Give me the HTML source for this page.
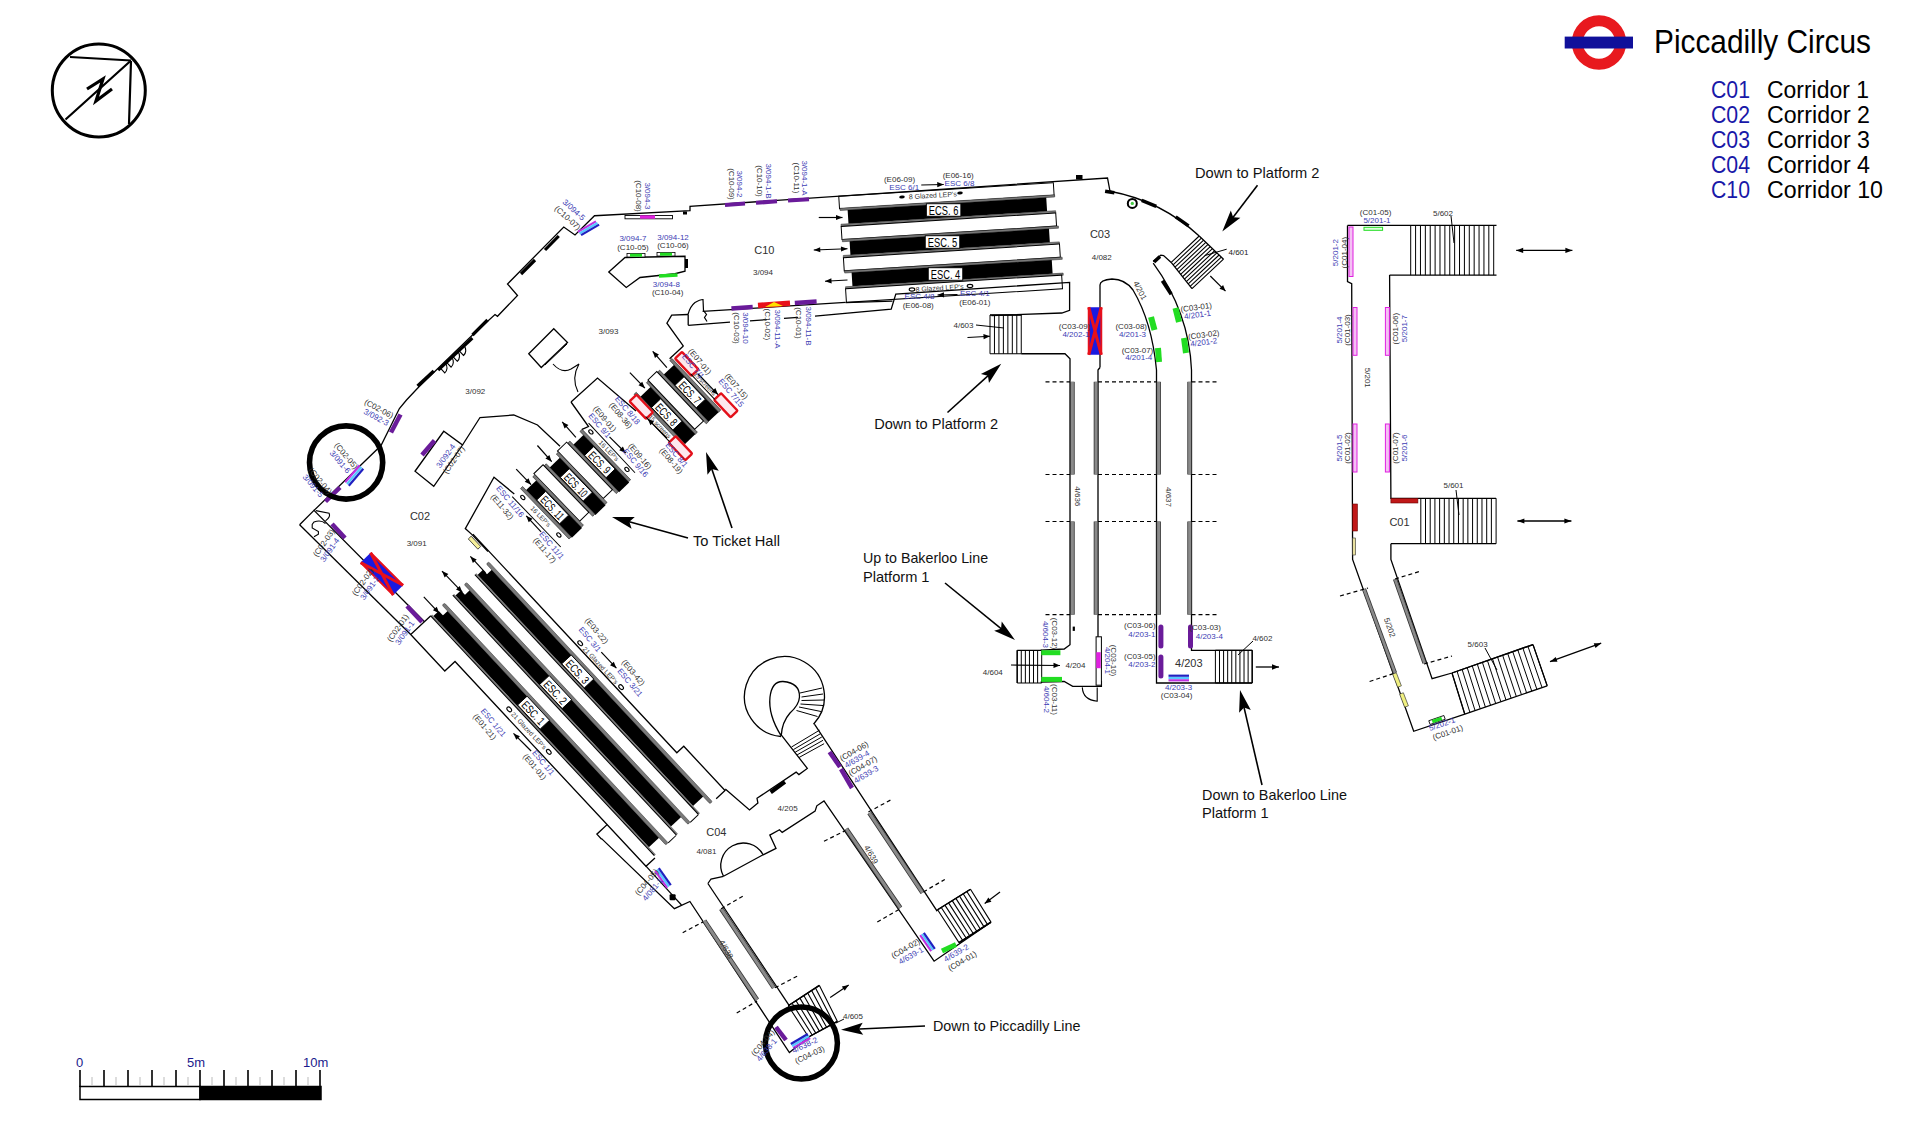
<!DOCTYPE html>
<html><head><meta charset="utf-8">
<style>
html,body{margin:0;padding:0;background:#fff;}
body{width:1920px;height:1126px;overflow:hidden;position:relative;}
svg{position:absolute;left:0;top:0;}
text{font-family:"Liberation Sans",sans-serif;}
</style></head><body>
<svg width="1920" height="1126" viewBox="0 0 1920 1126">
<g fill="none" stroke="#000">
<circle cx="98.8" cy="90.5" r="46.5" stroke-width="3"/>
<path d="M70,57 L131,60.5 M131,60.5 L65.5,119.5 M131,61 L129,124" stroke-width="2.2"/>
<path d="M87,89 L103,79 L96,101 L112,89" stroke-width="3.2"/>
</g>
<circle cx="1599" cy="42.5" r="21.7" fill="none" stroke="#e8191e" stroke-width="11"/>
<rect x="1564.7" y="36.6" width="68.3" height="11.9" fill="#10109a"/>
<text x="1654" y="53" font-size="33" fill="#000" textLength="217" lengthAdjust="spacingAndGlyphs">Piccadilly Circus</text>
<text x="1711" y="98" font-size="23" fill="#1818a8" textLength="39" lengthAdjust="spacingAndGlyphs">C01</text>
<text x="1767" y="98" font-size="23" fill="#000" textLength="102" lengthAdjust="spacingAndGlyphs">Corridor 1</text>
<text x="1711" y="123" font-size="23" fill="#1818a8" textLength="39" lengthAdjust="spacingAndGlyphs">C02</text>
<text x="1767" y="123" font-size="23" fill="#000" textLength="103" lengthAdjust="spacingAndGlyphs">Corridor 2</text>
<text x="1711" y="147.5" font-size="23" fill="#1818a8" textLength="39" lengthAdjust="spacingAndGlyphs">C03</text>
<text x="1767" y="147.5" font-size="23" fill="#000" textLength="103" lengthAdjust="spacingAndGlyphs">Corridor 3</text>
<text x="1711" y="172.5" font-size="23" fill="#1818a8" textLength="39" lengthAdjust="spacingAndGlyphs">C04</text>
<text x="1767" y="172.5" font-size="23" fill="#000" textLength="103" lengthAdjust="spacingAndGlyphs">Corridor 4</text>
<text x="1711" y="198" font-size="23" fill="#1818a8" textLength="39" lengthAdjust="spacingAndGlyphs">C10</text>
<text x="1767" y="198" font-size="23" fill="#000" textLength="116" lengthAdjust="spacingAndGlyphs">Corridor 10</text>
<rect x="80" y="1086.5" width="120" height="13" fill="#fff" stroke="#000" stroke-width="1.5"/>
<rect x="200" y="1086.5" width="121" height="13" fill="#000" stroke="#000" stroke-width="1.5"/>
<path d="M80,1070 V1087 M104,1070 V1087 M128,1070 V1087 M152,1070 V1087 M176,1070 V1087 M200,1070 V1087 M224,1070 V1087 M248,1070 V1087 M272,1070 V1087 M296,1070 V1087 M320,1070 V1087" stroke="#000" stroke-width="1.6"/>
<path d="M92,1077 V1086 M116,1077 V1086 M140,1077 V1086 M164,1077 V1086 M188,1077 V1086 M212,1077 V1086 M236,1077 V1086 M260,1077 V1086 M284,1077 V1086 M308,1077 V1086" stroke="#bbb" stroke-width="1"/>
<g font-size="13" fill="#1a1a8c"><text x="76" y="1067">0</text><text x="187" y="1067">5m</text><text x="303" y="1067">10m</text></g>
<g transform="translate(488.2 562.2) rotate(47)">
<rect x="0" y="2.5" width="10" height="14" fill="#fff" stroke="none" stroke-width="1" />
<rect x="8" y="2.5" width="310" height="14" fill="#000" stroke="none" stroke-width="1" />
<rect x="2" y="9.0" width="8" height="7.5" fill="#000" stroke="none" stroke-width="1" />
<rect x="0" y="-0.6" width="328" height="3.2" fill="#7a7a7a" stroke="#333" stroke-width="0.5" rx="1.5"/>
<rect x="0" y="16.3" width="328" height="1.3" fill="#7a7a7a" stroke="none" stroke-width="1" />
<rect x="0" y="17.6" width="328" height="1.2" fill="#000" stroke="none" stroke-width="1" />
<path d="M328,18.8 V29.6" stroke="#000" stroke-width="1"/>
<rect x="124.5" y="2.5" width="33" height="13" fill="#fff" stroke="#000" stroke-width="0.9" />
<text x="141" y="9.5" font-size="11.5" fill="#000" text-anchor="middle" dominant-baseline="central" textLength="28" lengthAdjust="spacingAndGlyphs">ECS. 3</text>
<rect x="0" y="32.7" width="10" height="14" fill="#fff" stroke="none" stroke-width="1" />
<rect x="8" y="32.7" width="310" height="14" fill="#000" stroke="none" stroke-width="1" />
<rect x="2" y="39.2" width="8" height="7.5" fill="#000" stroke="none" stroke-width="1" />
<rect x="0" y="29.599999999999998" width="328" height="3.2" fill="#7a7a7a" stroke="#333" stroke-width="0.5" rx="1.5"/>
<rect x="0" y="46.5" width="328" height="1.3" fill="#7a7a7a" stroke="none" stroke-width="1" />
<rect x="0" y="47.8" width="328" height="1.2" fill="#000" stroke="none" stroke-width="1" />
<path d="M328,49.0 V59.8" stroke="#000" stroke-width="1"/>
<rect x="124.5" y="32.7" width="33" height="13" fill="#fff" stroke="#000" stroke-width="0.9" />
<text x="141" y="39.7" font-size="11.5" fill="#000" text-anchor="middle" dominant-baseline="central" textLength="28" lengthAdjust="spacingAndGlyphs">ESC. 2</text>
<rect x="0" y="62.9" width="10" height="14" fill="#fff" stroke="none" stroke-width="1" />
<rect x="8" y="62.9" width="310" height="14" fill="#000" stroke="none" stroke-width="1" />
<rect x="2" y="69.4" width="8" height="7.5" fill="#000" stroke="none" stroke-width="1" />
<rect x="0" y="59.8" width="328" height="3.2" fill="#7a7a7a" stroke="#333" stroke-width="0.5" rx="1.5"/>
<rect x="0" y="76.7" width="328" height="1.3" fill="#7a7a7a" stroke="none" stroke-width="1" />
<rect x="0" y="78.0" width="328" height="1.2" fill="#000" stroke="none" stroke-width="1" />
<rect x="124.5" y="62.900000000000006" width="33" height="13" fill="#fff" stroke="#000" stroke-width="0.9" />
<text x="141" y="69.9" font-size="11.5" fill="#000" text-anchor="middle" dominant-baseline="central" textLength="28" lengthAdjust="spacingAndGlyphs">ESC. 1</text>
<path d="M0,78.5 L0,106 L50,106 L50,92 L330,92 L330,79.7" fill="none" stroke="#000" stroke-width="1.3" stroke-linejoin="miter" />
<path d="M273,92 L273,106 L280,106" fill="none" stroke="#000" stroke-width="1.3" stroke-linejoin="miter" />
<path d="M-31,-8 L268,-8 L268,-17.5 L328.5,-17.5 L328.5,-5.4" fill="none" stroke="#000" stroke-width="1.3" stroke-linejoin="miter" />
<text x="152" y="-12" font-size="6.5" fill="#333" text-anchor="middle" dominant-baseline="central" >21 Glazed LEP's</text>
<ellipse cx="122" cy="-12" rx="2.8" ry="1.8" fill="#fff" stroke="#000" stroke-width="1.1"/>
<ellipse cx="182" cy="-12" rx="2.8" ry="1.8" fill="#fff" stroke="#000" stroke-width="1.1"/>
<text x="151" y="85" font-size="6.5" fill="#333" text-anchor="middle" dominant-baseline="central" >21 Glazed LEP's</text>
<ellipse cx="122" cy="85" rx="2.8" ry="1.8" fill="#fff" stroke="#000" stroke-width="1.1"/>
<ellipse cx="180" cy="85" rx="2.8" ry="1.8" fill="#fff" stroke="#000" stroke-width="1.1"/>
</g>
<g transform="translate(838.75 196.25) rotate(-3.6)">
<rect x="0" y="0" width="215" height="12.5" fill="#fff" stroke="#000" stroke-width="1" />
<rect x="0.5" y="12.100000000000001" width="215.0" height="2.2" fill="#7a7a7a" stroke="#222" stroke-width="0.5" />
<rect x="8" y="14.3" width="199.0" height="13.75" fill="#000" stroke="none" stroke-width="1" />
<rect x="0.5" y="28.05" width="215.0" height="2.2" fill="#7a7a7a" stroke="#222" stroke-width="0.5" />
<rect x="0.5" y="30.25" width="215.0" height="13.2" fill="#fff" stroke="#000" stroke-width="1" />
<rect x="0.8" y="43.45" width="216.5" height="2.2" fill="#7a7a7a" stroke="#222" stroke-width="0.5" />
<rect x="8" y="45.650000000000006" width="199.8" height="13.75" fill="#000" stroke="none" stroke-width="1" />
<rect x="0.8" y="59.400000000000006" width="216.5" height="2.2" fill="#7a7a7a" stroke="#222" stroke-width="0.5" />
<rect x="0.8" y="61.60000000000001" width="216.5" height="13.2" fill="#fff" stroke="#000" stroke-width="1" />
<rect x="1.1" y="74.8" width="218.0" height="2.2" fill="#7a7a7a" stroke="#222" stroke-width="0.5" />
<rect x="8" y="77.0" width="200.6" height="13.75" fill="#000" stroke="none" stroke-width="1" />
<rect x="1.1" y="90.75" width="218.0" height="2.2" fill="#7a7a7a" stroke="#222" stroke-width="0.5" />
<rect x="1" y="92.7" width="216.5" height="13.7" fill="#fff" stroke="#000" stroke-width="1" />
</g>
<rect x="926.35" y="203.75" width="34.5" height="12.5" fill="#fff" stroke="#000" stroke-width="0.9" />
<text x="943.6" y="210.5" font-size="12" fill="#000" text-anchor="middle" dominant-baseline="central" textLength="29.5" lengthAdjust="spacingAndGlyphs">ECS. 6</text>
<rect x="925.25" y="235.75" width="34.5" height="12.5" fill="#fff" stroke="#000" stroke-width="0.9" />
<text x="942.5" y="242.5" font-size="12" fill="#000" text-anchor="middle" dominant-baseline="central" textLength="29.5" lengthAdjust="spacingAndGlyphs">ESC. 5</text>
<rect x="928.25" y="267.75" width="34.5" height="12.5" fill="#fff" stroke="#000" stroke-width="0.9" />
<text x="945.5" y="274.5" font-size="12" fill="#000" text-anchor="middle" dominant-baseline="central" textLength="29.5" lengthAdjust="spacingAndGlyphs">ESC. 4</text>
<g transform="translate(672 358.5) rotate(46.6)">
<rect x="0" y="0.0" width="71" height="3" fill="#7a7a7a" stroke="#222" stroke-width="0.6" />
<rect x="6" y="3.0" width="65" height="14" fill="#000" stroke="none" stroke-width="1" />
<rect x="0" y="17.0" width="71" height="3" fill="#7a7a7a" stroke="#222" stroke-width="0.6" />
<rect x="21.5" y="3.75" width="31" height="12.5" fill="#fff" stroke="#000" stroke-width="0.9" />
<text x="37" y="10.5" font-size="11.5" fill="#000" text-anchor="middle" dominant-baseline="central" textLength="26" lengthAdjust="spacingAndGlyphs">ECS. 7</text>
<rect x="0" y="32.2" width="71" height="3" fill="#7a7a7a" stroke="#222" stroke-width="0.6" />
<rect x="6" y="35.2" width="65" height="14" fill="#000" stroke="none" stroke-width="1" />
<rect x="0" y="49.2" width="71" height="3" fill="#7a7a7a" stroke="#222" stroke-width="0.6" />
<rect x="21.5" y="35.95" width="31" height="12.5" fill="#fff" stroke="#000" stroke-width="0.9" />
<text x="37" y="42.7" font-size="11.5" fill="#000" text-anchor="middle" dominant-baseline="central" textLength="26" lengthAdjust="spacingAndGlyphs">ECS. 8</text>
<rect x="-1" y="20" width="68" height="12.2" fill="#fff" stroke="#000" stroke-width="1" />
<rect x="2" y="-11.8" width="24" height="9.6" fill="#fde8ee" stroke="#e3101a" stroke-width="2.4" rx="1"/>
<rect x="59" y="-11.8" width="24" height="9.6" fill="#fde8ee" stroke="#e3101a" stroke-width="2.4" rx="1"/>
<rect x="2" y="50.7" width="24" height="9.6" fill="#fde8ee" stroke="#e3101a" stroke-width="2.4" rx="1"/>
<rect x="59" y="50.7" width="24" height="9.6" fill="#fde8ee" stroke="#e3101a" stroke-width="2.4" rx="1"/>
<line x1="24" y1="-3" x2="59" y2="-3" stroke="#000" stroke-width="1" />
<text x="41" y="-6.5" font-size="6" fill="#333" text-anchor="middle" dominant-baseline="central" >15 screens</text>
<line x1="24" y1="59" x2="59" y2="59" stroke="#000" stroke-width="1" />
<text x="41" y="55.5" font-size="6" fill="#333" text-anchor="middle" dominant-baseline="central" >15 screens</text>
</g>
<g transform="translate(582.1 429.3) rotate(46.1)">
<rect x="0" y="0.0" width="70" height="3" fill="#7a7a7a" stroke="#222" stroke-width="0.6" />
<rect x="5" y="3.0" width="66" height="14" fill="#000" stroke="none" stroke-width="1" />
<rect x="0" y="17.0" width="70" height="3" fill="#7a7a7a" stroke="#222" stroke-width="0.6" />
<rect x="20.5" y="3.75" width="31" height="12.5" fill="#fff" stroke="#000" stroke-width="0.9" />
<text x="36" y="10.5" font-size="11.5" fill="#000" text-anchor="middle" dominant-baseline="central" textLength="26" lengthAdjust="spacingAndGlyphs">ECS. 9</text>
<rect x="-1.5" y="20.0" width="66" height="12.75" fill="#fff" stroke="#000" stroke-width="1" />
<rect x="0" y="32.75" width="70" height="3" fill="#7a7a7a" stroke="#222" stroke-width="0.6" />
<rect x="5" y="35.75" width="66" height="14" fill="#000" stroke="none" stroke-width="1" />
<rect x="0" y="49.75" width="70" height="3" fill="#7a7a7a" stroke="#222" stroke-width="0.6" />
<rect x="19.5" y="36.5" width="33" height="12.5" fill="#fff" stroke="#000" stroke-width="0.9" />
<text x="36" y="43.25" font-size="11.5" fill="#000" text-anchor="middle" dominant-baseline="central" textLength="28" lengthAdjust="spacingAndGlyphs">ECS. 10</text>
<rect x="-1.5" y="52.75" width="66" height="12.75" fill="#fff" stroke="#000" stroke-width="1" />
<rect x="0" y="65.5" width="70" height="3" fill="#7a7a7a" stroke="#222" stroke-width="0.6" />
<rect x="5" y="68.5" width="66" height="14" fill="#000" stroke="none" stroke-width="1" />
<rect x="0" y="82.5" width="70" height="3" fill="#7a7a7a" stroke="#222" stroke-width="0.6" />
<rect x="19.5" y="69.25" width="33" height="12.5" fill="#fff" stroke="#000" stroke-width="0.9" />
<text x="36" y="76.0" font-size="11.5" fill="#000" text-anchor="middle" dominant-baseline="central" textLength="28" lengthAdjust="spacingAndGlyphs">ECS. 11</text>
<line x1="0" y1="-9" x2="68" y2="-8" stroke="#000" stroke-width="1" />
<text x="34" y="-4.5" font-size="6.5" fill="#333" text-anchor="middle" dominant-baseline="central" >16 LEP's</text>
<ellipse cx="8" cy="-4.5" rx="2.5" ry="1.6" fill="#fff" stroke="#000" stroke-width="1.1"/><ellipse cx="60" cy="-4.5" rx="2.5" ry="1.6" fill="#fff" stroke="#000" stroke-width="1.1"/>
<line x1="0" y1="97" x2="70" y2="97" stroke="#000" stroke-width="1" />
<text x="34" y="90" font-size="6.5" fill="#333" text-anchor="middle" dominant-baseline="central" >16 LEP's</text>
<ellipse cx="8" cy="90" rx="2.5" ry="1.6" fill="#fff" stroke="#000" stroke-width="1.1"/><ellipse cx="60" cy="90" rx="2.5" ry="1.6" fill="#fff" stroke="#000" stroke-width="1.1"/>
</g>
<path d="M314,510.4 L381,445.5 L399.4,408.5 L406.5,400 L418.75,387 L472.5,335 L495,314.5 L497.5,316.3 L517.5,295.5 L507.5,284 L563.75,227 L575,235 L594.5,215.75 L690,210.75 L690,206.25 L1107.5,178 L1110,191.25" fill="none" stroke="#000" stroke-width="1.3" stroke-linejoin="miter" />
<line x1="545" y1="250" x2="558.75" y2="236" stroke="#000" stroke-width="3.2" stroke-linecap="butt" />
<line x1="521" y1="274" x2="535" y2="260" stroke="#000" stroke-width="3.2" stroke-linecap="butt" />
<line x1="472.5" y1="335" x2="487.5" y2="320" stroke="#000" stroke-width="3.2" stroke-linecap="butt" />
<line x1="417.5" y1="386" x2="433.75" y2="371" stroke="#000" stroke-width="3.2" stroke-linecap="butt" />
<line x1="438.2" y1="370.2" x2="472.4" y2="338.2" stroke="#000" stroke-width="3" stroke-linecap="butt" />
<path d="M440.4,368.1 L444.8,372.9 A7,7 0 0 0 445.5,363.4" fill="none" stroke="#000" stroke-width="1.1" />
<path d="M446.6,362.3 L451.1,367.1 A7,7 0 0 0 451.7,357.5" fill="none" stroke="#000" stroke-width="1.1" />
<path d="M452.8,356.5 L457.3,361.3 A7,7 0 0 0 457.9,351.7" fill="none" stroke="#000" stroke-width="1.1" />
<path d="M459.0,350.7 L463.5,355.5 A7,7 0 0 0 464.2,345.9" fill="none" stroke="#000" stroke-width="1.1" />
<rect x="625" y="215.5" width="47.5" height="3.3" fill="#fff" stroke="#000" stroke-width="0.9" />
<line x1="640" y1="217" x2="655" y2="217" stroke="#e020e0" stroke-width="3.4" stroke-linecap="butt" />
<rect x="683" y="211.5" width="4" height="3" fill="#000"/>
<rect x="1076" y="175" width="6.5" height="4.5" fill="#000"/>
<line x1="725" y1="204.8805" x2="745" y2="203.5265" stroke="#6a1b9a" stroke-width="4" stroke-linecap="butt" />
<line x1="756" y1="202.7818" x2="777" y2="201.3601" stroke="#6a1b9a" stroke-width="4" stroke-linecap="butt" />
<line x1="788" y1="200.6154" x2="809" y2="199.1937" stroke="#6a1b9a" stroke-width="4" stroke-linecap="butt" />
<line x1="577.9" y1="231.9" x2="595.9" y2="221.4" stroke="#c030e0" stroke-width="2.2" stroke-linecap="butt" />
<line x1="579.5" y1="233.5" x2="597.5" y2="223" stroke="#58c8ff" stroke-width="2.2" stroke-linecap="butt" />
<line x1="581.1" y1="235.1" x2="599.1" y2="224.6" stroke="#2020c0" stroke-width="2.2" stroke-linecap="butt" />
<path d="M608.75,272 L626.25,287.5 L640,277.5 L675,273.75 L685,271.25 L685,256.25 L625,257.5 Z" fill="none" stroke="#000" stroke-width="1.3" stroke-linejoin="miter" />
<rect x="685" y="259" width="3" height="9" fill="#000"/>
<rect x="627" y="253.5" width="18" height="3.5" fill="#fff" stroke="#000" stroke-width="0.8" />
<line x1="630" y1="255.2" x2="642" y2="255.2" stroke="#22dd22" stroke-width="3" stroke-linecap="butt" />
<rect x="657" y="252.5" width="18" height="3.5" fill="#fff" stroke="#000" stroke-width="0.8" />
<line x1="660" y1="254.2" x2="672" y2="254.2" stroke="#22dd22" stroke-width="3" stroke-linecap="butt" />
<line x1="659" y1="276" x2="677.5" y2="275" stroke="#22dd22" stroke-width="3.5" stroke-linecap="butt" />
<path d="M528.75,353.75 L553.75,328.75 L567.5,342.5 L541.25,367.5 Z" fill="none" stroke="#000" stroke-width="1.3" stroke-linejoin="miter" />
<path d="M545,365 L567,344" fill="none" stroke="#000" stroke-width="1" stroke-linejoin="miter" />
<path d="M553,364 Q562,374 571,369 Q576,366 579,364 Q571,378 578,392" fill="none" stroke="#000" stroke-width="1.1" />
<path d="M462.5,445 L480,417.5 L513.75,415 L537.5,425 L560,446.25" fill="none" stroke="#000" stroke-width="1.3" stroke-linejoin="miter" />
<path d="M683.4,346.1 L666.9,323.2 L671.7,315.2 L688,314.5" fill="none" stroke="#000" stroke-width="1.3" stroke-linejoin="miter" />
<path d="M688,314.5 q2,-8 7,-12 q5,-3 8,-3 l0.5,11 l3,4 l-2,3 l2.5,4" fill="none" stroke="#000" stroke-width="1.2" />
<path d="M688.2,325.3 L688.2,314.5" fill="none" stroke="#000" stroke-width="1.3" stroke-linejoin="miter" />
<path d="M702.6,311.4 L845.6,302.4" fill="none" stroke="#000" stroke-width="1.3" stroke-linejoin="miter" />
<path d="M688.2,325.3 L730,322.2" fill="none" stroke="#000" stroke-width="1.3" stroke-linejoin="miter" />
<path d="M750,320.8 L767,319.6" fill="none" stroke="#000" stroke-width="1.3" stroke-linejoin="miter" />
<path d="M784,318.4 L798,317.4" fill="none" stroke="#000" stroke-width="1.3" stroke-linejoin="miter" />
<line x1="731.4" y1="308.5" x2="752.7" y2="307" stroke="#6a1b9a" stroke-width="4.5" stroke-linecap="butt" />
<line x1="758" y1="305.5" x2="790" y2="303.2" stroke="#e8101a" stroke-width="5.5" stroke-linecap="butt" />
<path d="M765,307 L774,302 L783,306 Z" fill="#ffe000"/>
<line x1="794.8" y1="303" x2="816.6" y2="301.5" stroke="#6a1b9a" stroke-width="4.5" stroke-linecap="butt" />
<path d="M683.4,346.1 L669.6,358.8" fill="none" stroke="#000" stroke-width="1.3" stroke-linejoin="miter" />
<path d="M815,316.2 L891.2,309.1 L895.8,294.1 L1069.6,282.4 L1069.6,310.4 L1061.8,313 L991.5,315.6" fill="none" stroke="#000" stroke-width="1.3" stroke-linejoin="miter" />
<path d="M845.6,302.6 L892.5,301.2" fill="none" stroke="#000" stroke-width="1.3" stroke-linejoin="miter" />
<path d="M990,315 H1021.25 M990,353.75 H1021.25" stroke="#000" stroke-width="1.2"/>
<path d="M990.00,315 V353.75 M994.46,315 V353.75 M998.93,315 V353.75 M1003.39,315 V353.75 M1007.86,315 V353.75 M1012.32,315 V353.75 M1016.79,315 V353.75 M1021.25,315 V353.75" stroke="#000" stroke-width="1"/>
<path d="M1021.25,353.75 L1065,353.75 L1070,358.75 L1070,644.7 L1064.2,649 L1040.7,650.1" fill="none" stroke="#000" stroke-width="1.3" stroke-linejoin="miter" />
<path d="M990,315 L1021.25,315" fill="none" stroke="#000" stroke-width="1.3" stroke-linejoin="miter" />
<path d="M1110,191.25 A180.5,180.5 0 0 1 1199.2,236" fill="none" stroke="#000" stroke-width="1.3" />
<line x1="1105.1" y1="191.3" x2="1114.4" y2="192.8" stroke="#000" stroke-width="3.4" stroke-linecap="butt" />
<line x1="1141.7" y1="200.4" x2="1156.3" y2="206.4" stroke="#000" stroke-width="3.4" stroke-linecap="butt" />
<line x1="1175.7" y1="216.9" x2="1188.6" y2="225.8" stroke="#000" stroke-width="3.4" stroke-linecap="butt" />
<circle cx="1132.3" cy="203.4" r="4.5" fill="#fff" stroke="#000" stroke-width="2"/><circle cx="1132.3" cy="203.4" r="1.6" fill="#4c4"/>
<path d="M1171.20,262.40 L1199.20,236.00 M1173.09,264.79 L1201.41,238.11 M1174.98,267.18 L1203.62,240.22 M1176.87,269.57 L1205.83,242.33 M1178.76,271.96 L1208.04,244.44 M1180.65,274.35 L1210.25,246.55 M1182.55,276.75 L1212.45,248.65 M1184.44,279.14 L1214.66,250.76 M1186.33,281.53 L1216.87,252.87 M1188.22,283.92 L1219.08,254.98 M1190.11,286.31 L1221.29,257.09 M1192.00,288.70 L1223.50,259.20" stroke="#000" stroke-width="1.1"/>
<path d="M1171.2,262.4 L1192,288.7 M1199.2,236 L1223.5,259.2" stroke="#000" stroke-width="1.3"/>
<path d="M1153.2,261.6 L1160.8,255.2 L1163.6,255.6 L1171.2,262.4" fill="none" stroke="#000" stroke-width="1.3" stroke-linejoin="miter" />
<path d="M1153.2,263.2 Q1189,312 1191.5,370 L1191.5,381" fill="none" stroke="#000" stroke-width="1.3" />
<line x1="1154" y1="262" x2="1160" y2="256.5" stroke="#000" stroke-width="3.6" stroke-linecap="butt" />
<line x1="1162.4" y1="280.8" x2="1171.2" y2="294.3" stroke="#000" stroke-width="3.6" stroke-linecap="butt" />
<line x1="1210.3" y1="276" x2="1225.5" y2="291.1" stroke="#000" stroke-width="1.2" />
<path d="M1225.50,291.10 L1219.41,288.72 L1223.08,285.03 Z" fill="#000"/>
<text x="1238.5" y="252.5" font-size="8" fill="#222" text-anchor="middle" dominant-baseline="central" >4/601</text>
<line x1="1226.7" y1="249.2" x2="1204.7" y2="255.6" stroke="#000" stroke-width="1" />
<path d="M1100,367.5 V285 Q1100,280 1112,279 Q1125,279 1133,290 Q1152,322 1156.5,370 L1156.5,381" fill="none" stroke="#000" stroke-width="1.3" />
<path d="M1100,367.5 L1098,370 L1098,637" fill="none" stroke="#000" stroke-width="1.3" stroke-linejoin="miter" />
<path d="M1156.5,381 L1156.5,683 L1252.2,683" fill="none" stroke="#000" stroke-width="1.3" stroke-linejoin="miter" />
<path d="M1191.5,381 L1191.5,650.3 L1252.2,650.3" fill="none" stroke="#000" stroke-width="1.3" stroke-linejoin="miter" />
<line x1="1072.4" y1="381.8" x2="1072.4" y2="474.5" stroke="#333" stroke-width="4.6"/>
<line x1="1072.4" y1="381.8" x2="1072.4" y2="474.5" stroke="#8a8a8a" stroke-width="3.0"/>
<line x1="1072.4" y1="521.5" x2="1072.4" y2="614.7" stroke="#333" stroke-width="4.6"/>
<line x1="1072.4" y1="521.5" x2="1072.4" y2="614.7" stroke="#8a8a8a" stroke-width="3.0"/>
<line x1="1096" y1="381.8" x2="1096" y2="474.5" stroke="#333" stroke-width="4.6"/>
<line x1="1096" y1="381.8" x2="1096" y2="474.5" stroke="#8a8a8a" stroke-width="3.0"/>
<line x1="1096" y1="521.5" x2="1096" y2="614.7" stroke="#333" stroke-width="4.6"/>
<line x1="1096" y1="521.5" x2="1096" y2="614.7" stroke="#8a8a8a" stroke-width="3.0"/>
<line x1="1158.6" y1="381.8" x2="1158.6" y2="474.5" stroke="#333" stroke-width="4.6"/>
<line x1="1158.6" y1="381.8" x2="1158.6" y2="474.5" stroke="#8a8a8a" stroke-width="3.0"/>
<line x1="1158.6" y1="521.5" x2="1158.6" y2="614.7" stroke="#333" stroke-width="4.6"/>
<line x1="1158.6" y1="521.5" x2="1158.6" y2="614.7" stroke="#8a8a8a" stroke-width="3.0"/>
<line x1="1189.6" y1="381.8" x2="1189.6" y2="474.5" stroke="#333" stroke-width="4.6"/>
<line x1="1189.6" y1="381.8" x2="1189.6" y2="474.5" stroke="#8a8a8a" stroke-width="3.0"/>
<line x1="1189.6" y1="521.5" x2="1189.6" y2="614.7" stroke="#333" stroke-width="4.6"/>
<line x1="1189.6" y1="521.5" x2="1189.6" y2="614.7" stroke="#8a8a8a" stroke-width="3.0"/>
<line x1="1045.5" y1="381.8" x2="1070" y2="381.8" stroke="#000" stroke-width="1.2" stroke-dasharray="4 3"/>
<line x1="1098" y1="381.8" x2="1156.5" y2="381.8" stroke="#000" stroke-width="1.2" stroke-dasharray="4 3"/>
<line x1="1191.5" y1="381.8" x2="1217.5" y2="381.8" stroke="#000" stroke-width="1.2" stroke-dasharray="4 3"/>
<line x1="1045.5" y1="474.5" x2="1070" y2="474.5" stroke="#000" stroke-width="1.2" stroke-dasharray="4 3"/>
<line x1="1098" y1="474.5" x2="1156.5" y2="474.5" stroke="#000" stroke-width="1.2" stroke-dasharray="4 3"/>
<line x1="1191.5" y1="474.5" x2="1217.5" y2="474.5" stroke="#000" stroke-width="1.2" stroke-dasharray="4 3"/>
<line x1="1045.5" y1="521.5" x2="1070" y2="521.5" stroke="#000" stroke-width="1.2" stroke-dasharray="4 3"/>
<line x1="1098" y1="521.5" x2="1156.5" y2="521.5" stroke="#000" stroke-width="1.2" stroke-dasharray="4 3"/>
<line x1="1191.5" y1="521.5" x2="1217.5" y2="521.5" stroke="#000" stroke-width="1.2" stroke-dasharray="4 3"/>
<line x1="1045.5" y1="614.7" x2="1070" y2="614.7" stroke="#000" stroke-width="1.2" stroke-dasharray="4 3"/>
<line x1="1098" y1="614.7" x2="1156.5" y2="614.7" stroke="#000" stroke-width="1.2" stroke-dasharray="4 3"/>
<line x1="1191.5" y1="614.7" x2="1217.5" y2="614.7" stroke="#000" stroke-width="1.2" stroke-dasharray="4 3"/>
<g transform="translate(1095 331) rotate(0)">
<rect x="-6.25" y="-23.75" width="12.5" height="47.5" fill="#1a1ae0" stroke="none" stroke-width="1" />
<path d="M-6.25,-23.75 L6.25,23.75 M6.25,-23.75 L-6.25,23.75" stroke="#e8101a" stroke-width="3"/>
<path d="M-6.25,-23.75 V23.75 M6.25,-23.75 V23.75" stroke="#e8101a" stroke-width="2"/>
</g>
<line x1="1151" y1="317" x2="1154.5" y2="330" stroke="#22dd22" stroke-width="6" stroke-linecap="butt" />
<line x1="1158" y1="348" x2="1159" y2="362" stroke="#22dd22" stroke-width="6" stroke-linecap="butt" />
<line x1="1175.5" y1="308" x2="1179" y2="322" stroke="#22dd22" stroke-width="6" stroke-linecap="butt" />
<line x1="1184" y1="338" x2="1186" y2="353" stroke="#22dd22" stroke-width="6" stroke-linecap="butt" />
<path d="M1017.2,650.3 H1041.7 M1017.2,683 H1041.7" stroke="#000" stroke-width="1.2"/>
<path d="M1017.20,650.3 V683 M1021.28,650.3 V683 M1025.37,650.3 V683 M1029.45,650.3 V683 M1033.53,650.3 V683 M1037.62,650.3 V683 M1041.70,650.3 V683" stroke="#000" stroke-width="1"/>
<path d="M1017.2,650.3 L1017.2,683" fill="none" stroke="#000" stroke-width="1.3" stroke-linejoin="miter" />
<path d="M1040.7,682 L1064.2,681.5 L1072.7,686.3 L1101.4,686.3 L1101.4,681" fill="none" stroke="#000" stroke-width="1.3" stroke-linejoin="miter" />
<rect x="1096.1" y="636.8" width="5.3" height="48.4" fill="#fff" stroke="#000" stroke-width="1" />
<line x1="1098.5" y1="652.2" x2="1098.5" y2="668.2" stroke="#e020e0" stroke-width="4.5" stroke-linecap="butt" />
<path d="M1082.3,687.4 Q1083,700 1097.2,701.2 L1097.2,687.4" fill="none" stroke="#000" stroke-width="1.1" />
<rect x="1072.7" y="626.6" width="2.2" height="4.3" fill="#000"/>
<path d="M1215.4,650.3 H1252.2 M1215.4,683 H1252.2" stroke="#000" stroke-width="1.2"/>
<path d="M1215.40,650.3 V683 M1219.49,650.3 V683 M1223.58,650.3 V683 M1227.67,650.3 V683 M1231.76,650.3 V683 M1235.84,650.3 V683 M1239.93,650.3 V683 M1244.02,650.3 V683 M1248.11,650.3 V683 M1252.20,650.3 V683" stroke="#000" stroke-width="1"/>
<path d="M1252.2,650.3 L1252.2,683" fill="none" stroke="#000" stroke-width="1.3" stroke-linejoin="miter" />
<line x1="1160.9" y1="627" x2="1160.9" y2="646" stroke="#6a1b9a" stroke-width="5" stroke-linecap="round" />
<line x1="1160.9" y1="657" x2="1160.9" y2="676" stroke="#6a1b9a" stroke-width="5" stroke-linecap="round" />
<line x1="1190.5" y1="627" x2="1190.5" y2="646" stroke="#6a1b9a" stroke-width="5" stroke-linecap="round" />
<line x1="1168.5" y1="680.3" x2="1189" y2="680.3" stroke="#c030e0" stroke-width="2.2" stroke-linecap="butt" />
<line x1="1168.5" y1="678" x2="1189" y2="678" stroke="#58c8ff" stroke-width="2.2" stroke-linecap="butt" />
<line x1="1168.5" y1="675.7" x2="1189" y2="675.7" stroke="#2020c0" stroke-width="2.2" stroke-linecap="butt" />
<line x1="1041.3" y1="652.7" x2="1060.4" y2="652.7" stroke="#22dd22" stroke-width="5" stroke-linecap="butt" />
<line x1="1041.3" y1="679.4" x2="1062" y2="679.4" stroke="#22dd22" stroke-width="5" stroke-linecap="butt" />
<path d="M1347.5,225.4 L1496.5,225.4" fill="none" stroke="#000" stroke-width="1.3" stroke-linejoin="miter" />
<path d="M1347.5,225.4 L1347.5,281.6 L1351.7,283.6 L1352.6,559.4 L1413.7,731.3 L1464.8,714.2" fill="none" stroke="#000" stroke-width="1.3" stroke-linejoin="miter" />
<path d="M1389.6,275.1 L1496.5,275.1" fill="none" stroke="#000" stroke-width="1.3" stroke-linejoin="miter" />
<path d="M1389.6,275.1 L1390.9,498.3 L1496.1,498.3" fill="none" stroke="#000" stroke-width="1.3" stroke-linejoin="miter" />
<path d="M1390.9,543.7 L1496.1,543.7" fill="none" stroke="#000" stroke-width="1.3" stroke-linejoin="miter" />
<path d="M1390.9,543.7 L1390.9,559.4 L1432.1,678.7 L1452,673 L1533,644.6" fill="none" stroke="#000" stroke-width="1.3" stroke-linejoin="miter" />
<path d="M1410.70,225.4 V275.1 M1415.58,225.4 V275.1 M1420.46,225.4 V275.1 M1425.35,225.4 V275.1 M1430.23,225.4 V275.1 M1435.11,225.4 V275.1 M1439.99,225.4 V275.1 M1444.88,225.4 V275.1 M1449.76,225.4 V275.1 M1454.64,225.4 V275.1 M1459.52,225.4 V275.1 M1464.41,225.4 V275.1 M1469.29,225.4 V275.1 M1474.17,225.4 V275.1 M1479.05,225.4 V275.1 M1483.94,225.4 V275.1 M1488.82,225.4 V275.1 M1493.70,225.4 V275.1" fill="none" stroke="#000" stroke-width="1" />
<path d="M1420.80,498.3 V543.7 M1425.51,498.3 V543.7 M1430.21,498.3 V543.7 M1434.92,498.3 V543.7 M1439.62,498.3 V543.7 M1444.33,498.3 V543.7 M1449.04,498.3 V543.7 M1453.74,498.3 V543.7 M1458.45,498.3 V543.7 M1463.16,498.3 V543.7 M1467.86,498.3 V543.7 M1472.57,498.3 V543.7 M1477.27,498.3 V543.7 M1481.98,498.3 V543.7 M1486.69,498.3 V543.7 M1491.39,498.3 V543.7 M1496.10,498.3 V543.7" fill="none" stroke="#000" stroke-width="1" />
<path d="M1452.00,673.00 L1533.00,644.60 M1464.80,714.20 L1547.20,685.80" stroke="#000" stroke-width="1.3"/>
<path d="M1452,673 L1464.8,714.2 M1533,644.6 L1547.2,685.8" stroke="#000" stroke-width="1.3"/>
<line x1="1452.0" y1="673.0" x2="1464.8" y2="714.2" stroke="#000" stroke-width="1" />
<line x1="1457.06" y1="671.23" x2="1469.95" y2="712.43" stroke="#000" stroke-width="1" />
<line x1="1462.12" y1="669.45" x2="1475.1" y2="710.65" stroke="#000" stroke-width="1" />
<line x1="1467.19" y1="667.67" x2="1480.25" y2="708.88" stroke="#000" stroke-width="1" />
<line x1="1472.25" y1="665.9" x2="1485.4" y2="707.1" stroke="#000" stroke-width="1" />
<line x1="1477.31" y1="664.12" x2="1490.55" y2="705.33" stroke="#000" stroke-width="1" />
<line x1="1482.38" y1="662.35" x2="1495.7" y2="703.55" stroke="#000" stroke-width="1" />
<line x1="1487.44" y1="660.58" x2="1500.85" y2="701.77" stroke="#000" stroke-width="1" />
<line x1="1492.5" y1="658.8" x2="1506.0" y2="700.0" stroke="#000" stroke-width="1" />
<line x1="1497.56" y1="657.02" x2="1511.15" y2="698.23" stroke="#000" stroke-width="1" />
<line x1="1502.62" y1="655.25" x2="1516.3" y2="696.45" stroke="#000" stroke-width="1" />
<line x1="1507.69" y1="653.48" x2="1521.45" y2="694.67" stroke="#000" stroke-width="1" />
<line x1="1512.75" y1="651.7" x2="1526.6" y2="692.9" stroke="#000" stroke-width="1" />
<line x1="1517.81" y1="649.93" x2="1531.75" y2="691.12" stroke="#000" stroke-width="1" />
<line x1="1522.88" y1="648.15" x2="1536.9" y2="689.35" stroke="#000" stroke-width="1" />
<line x1="1527.94" y1="646.38" x2="1542.05" y2="687.57" stroke="#000" stroke-width="1" />
<line x1="1533.0" y1="644.6" x2="1547.2" y2="685.8" stroke="#000" stroke-width="1" />
<rect x="1349" y="227" width="4" height="49.5" fill="#f4c0f4" stroke="#e020e0" stroke-width="1" />
<rect x="1364" y="227.3" width="18.6" height="3" fill="#e0ffe0" stroke="#22dd22" stroke-width="1" />
<rect x="1353" y="307.5" width="4" height="47.80000000000001" fill="#f4c0f4" stroke="#e020e0" stroke-width="1" />
<rect x="1385.4" y="307.5" width="4" height="47.80000000000001" fill="#f4c0f4" stroke="#e020e0" stroke-width="1" />
<rect x="1353" y="424" width="4" height="48" fill="#f4c0f4" stroke="#e020e0" stroke-width="1" />
<rect x="1385.4" y="424" width="4" height="48" fill="#f4c0f4" stroke="#e020e0" stroke-width="1" />
<rect x="1390.9" y="498.3" width="27" height="4.7" fill="#c01818" stroke="#600" stroke-width="0.6" />
<rect x="1352.6" y="504" width="4.8" height="27" fill="#c01818" stroke="#600" stroke-width="0.6" />
<rect x="1352.6" y="538" width="3" height="17" fill="#e8e0a0" stroke="#333" stroke-width="0.6" />
<line x1="1364" y1="589" x2="1395" y2="673" stroke="#333" stroke-width="4.2"/>
<line x1="1364" y1="589" x2="1395" y2="673" stroke="#8a8a8a" stroke-width="2.6"/>
<line x1="1395" y1="579" x2="1424.5" y2="663" stroke="#333" stroke-width="4.2"/>
<line x1="1395" y1="579" x2="1424.5" y2="663" stroke="#8a8a8a" stroke-width="2.6"/>
<line x1="1340" y1="596" x2="1368" y2="588" stroke="#000" stroke-width="1.2" stroke-dasharray="4 3"/>
<line x1="1369.6" y1="681.5" x2="1395.2" y2="673" stroke="#000" stroke-width="1.2" stroke-dasharray="4 3"/>
<line x1="1395" y1="579" x2="1421" y2="571" stroke="#000" stroke-width="1.2" stroke-dasharray="4 3"/>
<line x1="1424" y1="664" x2="1452" y2="656" stroke="#000" stroke-width="1.2" stroke-dasharray="4 3"/>
<g transform="translate(1397 680) rotate(69)">
<rect x="-7" y="-2" width="14" height="4" fill="#f0f080" stroke="#333" stroke-width="0.6" />
</g>
<g transform="translate(1404 700) rotate(69)">
<rect x="-7" y="-2" width="14" height="4" fill="#f0f080" stroke="#333" stroke-width="0.6" />
</g>
<g transform="translate(1437 720) rotate(-19)">
<rect x="-8" y="-2" width="16" height="4" fill="#fff" stroke="#000" stroke-width="0.8" />
<line x1="-5" y1="0" x2="5" y2="0" stroke="#22dd22" stroke-width="3.5" stroke-linecap="butt" />
</g>
<line x1="1516.2" y1="250.4" x2="1572.4" y2="250.4" stroke="#000" stroke-width="1.3" />
<path d="M1572.40,250.40 L1565.40,253.00 L1565.40,247.80 Z" fill="#000"/>
<path d="M1516.20,250.40 L1523.20,247.80 L1523.20,253.00 Z" fill="#000"/>
<line x1="1517.4" y1="521" x2="1571.4" y2="521" stroke="#000" stroke-width="1.3" />
<path d="M1571.40,521.00 L1564.40,523.60 L1564.40,518.40 Z" fill="#000"/>
<path d="M1517.40,521.00 L1524.40,518.40 L1524.40,523.60 Z" fill="#000"/>
<line x1="1550" y1="661.7" x2="1601.2" y2="643.2" stroke="#000" stroke-width="1.3" />
<path d="M1601.20,643.20 L1595.50,648.02 L1593.73,643.13 Z" fill="#000"/>
<path d="M1550.00,661.70 L1555.70,656.88 L1557.47,661.77 Z" fill="#000"/>
<path d="M299.6,524.8 L314,510.4 L424.3,621.5" fill="none" stroke="#000" stroke-width="1.3" stroke-linejoin="miter" />
<path d="M299.6,524.8 L410.7,634.5" fill="none" stroke="#000" stroke-width="1.3" stroke-linejoin="miter" />
<path d="M315.8,510.6 L329.1,513.3 Q331,517 325.5,520.9" fill="none" stroke="#000" stroke-width="1.1" />
<path d="M325.5,523.5 Q321,519.5 314,522 L312.2,524.4 L312.2,528 L318.4,531.5 L318.4,534.2 L314,536.8" fill="none" stroke="#000" stroke-width="1.1" />
<line x1="332" y1="524" x2="345" y2="538" stroke="#6a1b9a" stroke-width="4.5" stroke-linecap="butt" />
<g transform="translate(381.9 573.9) rotate(-45)">
<rect x="-7.0" y="-23.0" width="14" height="46" fill="#1a1ae0" stroke="none" stroke-width="1" />
<path d="M-7.0,-23.0 L7.0,23.0 M7.0,-23.0 L-7.0,23.0" stroke="#e8101a" stroke-width="3"/>
<path d="M-7.0,-23.0 V23.0 M7.0,-23.0 V23.0" stroke="#e8101a" stroke-width="2"/>
</g>
<line x1="407" y1="606" x2="422" y2="622" stroke="#6a1b9a" stroke-width="4.5" stroke-linecap="butt" />
<line x1="400.5" y1="414.5" x2="391" y2="432.5" stroke="#6a1b9a" stroke-width="4.5" stroke-linecap="butt" />
<line x1="345.2" y1="482.2" x2="359.7" y2="465.2" stroke="#c030e0" stroke-width="2.2" stroke-linecap="butt" />
<line x1="347" y1="484" x2="361.5" y2="467" stroke="#58c8ff" stroke-width="2.2" stroke-linecap="butt" />
<line x1="348.8" y1="485.8" x2="363.3" y2="468.8" stroke="#2020c0" stroke-width="2.2" stroke-linecap="butt" />
<line x1="325.5" y1="501.5" x2="340" y2="487.5" stroke="#6a1b9a" stroke-width="4.5" stroke-linecap="butt" />
<path d="M415,471.25 L443.75,431.25 L462.5,445 L433.75,486.25 Z" fill="none" stroke="#000" stroke-width="1.3" stroke-linejoin="miter" />
<line x1="422" y1="455" x2="434.5" y2="440.5" stroke="#6a1b9a" stroke-width="4.5" stroke-linecap="butt" />
<circle cx="346.1" cy="462.5" r="36.6" fill="none" stroke="#000" stroke-width="5.6"/>
<path d="M514.3,494 L494,477.2 L465.3,528.6 L472,534.6 L488,551.5" fill="none" stroke="#000" stroke-width="1.3" stroke-linejoin="miter" />
<g transform="translate(471.2 536.2) rotate(47)">
<rect x="0" y="0" width="14" height="4" fill="#f6f09a" stroke="#333" stroke-width="0.8" />
</g>
<path d="M571,402 L597.5,378 L636,411" fill="none" stroke="#000" stroke-width="1.3" stroke-linejoin="miter" />
<path d="M571,402 L588.5,426.5 L582,429.3" fill="none" stroke="#000" stroke-width="1.3" stroke-linejoin="miter" />
<line x1="666.9" y1="367.6" x2="652.7" y2="351.3" stroke="#000" stroke-width="1.2" />
<path d="M652.70,351.30 L658.93,354.49 L655.01,357.91 Z" fill="#000"/>
<line x1="629.9" y1="372.6" x2="644.9" y2="388.2" stroke="#000" stroke-width="1.2" />
<path d="M644.90,388.20 L638.52,385.32 L642.27,381.71 Z" fill="#000"/>
<line x1="575.9" y1="437.4" x2="562.2" y2="421.9" stroke="#000" stroke-width="1.2" />
<path d="M562.20,421.90 L568.45,425.05 L564.56,428.49 Z" fill="#000"/>
<line x1="537.4" y1="445.5" x2="551.7" y2="461.7" stroke="#000" stroke-width="1.2" />
<path d="M551.70,461.70 L545.45,458.55 L549.35,455.11 Z" fill="#000"/>
<line x1="516.2" y1="469.1" x2="531.1" y2="484.7" stroke="#000" stroke-width="1.2" />
<path d="M531.10,484.70 L524.73,481.80 L528.49,478.20 Z" fill="#000"/>
<line x1="609.5" y1="436.8" x2="625.7" y2="453" stroke="#000" stroke-width="1.2" />
<path d="M625.70,453.00 L619.27,450.24 L622.94,446.57 Z" fill="#000"/>
<line x1="541.1" y1="531.9" x2="526.2" y2="515.8" stroke="#000" stroke-width="1.2" />
<path d="M526.20,515.80 L532.52,518.80 L528.71,522.34 Z" fill="#000"/>
<line x1="698.1" y1="374" x2="718" y2="394.6" stroke="#000" stroke-width="1.2" />
<path d="M718.00,394.60 L711.61,391.73 L715.35,388.12 Z" fill="#000"/>
<line x1="666.9" y1="438" x2="647.7" y2="418.8" stroke="#000" stroke-width="1.2" />
<path d="M647.70,418.80 L654.13,421.56 L650.46,425.23 Z" fill="#000"/>
<line x1="423.8" y1="596.8" x2="439.3" y2="613.3" stroke="#000" stroke-width="1.2" />
<path d="M439.30,613.30 L432.95,610.34 L436.74,606.78 Z" fill="#000"/>
<line x1="442" y1="571.1" x2="462.4" y2="592.4" stroke="#000" stroke-width="1.2" />
<path d="M462.40,592.40 L456.03,589.50 L459.78,585.91 Z" fill="#000"/>
<path d="M442.00,571.10 L448.37,574.00 L444.62,577.59 Z" fill="#000"/>
<line x1="485.5" y1="572.9" x2="470.4" y2="556.4" stroke="#000" stroke-width="1.2" />
<path d="M470.40,556.40 L476.71,559.44 L472.87,562.95 Z" fill="#000"/>
<line x1="601.3" y1="652.2" x2="616.4" y2="668.2" stroke="#000" stroke-width="1.2" />
<path d="M616.40,668.20 L610.05,665.26 L613.83,661.69 Z" fill="#000"/>
<line x1="531.1" y1="751" x2="513.5" y2="733.4" stroke="#000" stroke-width="1.2" />
<path d="M513.50,733.40 L519.93,736.16 L516.26,739.83 Z" fill="#000"/>
<line x1="818.75" y1="217.5" x2="842.5" y2="217.5" stroke="#000" stroke-width="1.2" />
<path d="M842.50,217.50 L836.00,220.10 L836.00,214.90 Z" fill="#000"/>
<line x1="813.75" y1="250" x2="847.5" y2="248.75" stroke="#000" stroke-width="1.2" />
<path d="M847.50,248.75 L841.10,251.59 L840.91,246.39 Z" fill="#000"/>
<path d="M813.75,250.00 L820.15,247.16 L820.34,252.36 Z" fill="#000"/>
<line x1="847.5" y1="280" x2="825" y2="281.25" stroke="#000" stroke-width="1.2" />
<path d="M825.00,281.25 L831.35,278.29 L831.63,283.49 Z" fill="#000"/>
<line x1="921.25" y1="185" x2="943.75" y2="184.5" stroke="#000" stroke-width="1.2" />
<path d="M943.75,184.50 L937.31,187.24 L937.19,182.05 Z" fill="#000"/>
<line x1="957.5" y1="294.5" x2="937.5" y2="295" stroke="#000" stroke-width="1.2" />
<path d="M937.50,295.00 L943.93,292.24 L944.06,297.44 Z" fill="#000"/>
<line x1="967.5" y1="337.5" x2="990" y2="336.25" stroke="#000" stroke-width="1.2" />
<path d="M990.00,336.25 L983.65,339.21 L983.37,334.01 Z" fill="#000"/>
<line x1="1000" y1="891.9" x2="984.7" y2="903.5" stroke="#000" stroke-width="1.2" />
<path d="M984.70,903.50 L988.31,897.50 L991.45,901.64 Z" fill="#000"/>
<line x1="830.2" y1="997.4" x2="848.7" y2="985" stroke="#000" stroke-width="1.2" />
<path d="M848.70,985.00 L844.75,990.78 L841.85,986.46 Z" fill="#000"/>
<line x1="1011" y1="665" x2="1060" y2="665.5" stroke="#000" stroke-width="1.2" />
<path d="M1060.00,665.50 L1053.47,668.03 L1053.53,662.83 Z" fill="#000"/>
<line x1="1255.8" y1="667" x2="1279" y2="667" stroke="#000" stroke-width="1.3" />
<path d="M1279.00,667.00 L1272.00,669.80 L1272.00,664.20 Z" fill="#000"/>
<path d="M725.3,788.9 L749.5,810 L757.9,802.9 L757,798.3 L796.1,772.1 L798.9,774.6 L807.3,768.4 L781.2,734.8" fill="none" stroke="#000" stroke-width="1.3" stroke-linejoin="miter" />
<path d="M781.1,736.5 A40,40 0 1 1 813.9,723.7 L814.8,724.6" fill="none" stroke="#000" stroke-width="1.3" />
<path d="M781.2,735.8 Q768,715 770,697 Q772,681 783,681.5 Q800,683 799.5,697 Q799,705 790,713 Q782,722 781.2,735.8" fill="none" stroke="#000" stroke-width="1.3" />
<line x1="800" y1="693" x2="822" y2="688" stroke="#000" stroke-width="1" />
<line x1="801.5" y1="697" x2="823" y2="694" stroke="#000" stroke-width="1" />
<line x1="801.5" y1="700.5" x2="824" y2="700" stroke="#000" stroke-width="1" />
<line x1="800.5" y1="704" x2="823" y2="705.5" stroke="#000" stroke-width="1" />
<line x1="799" y1="707" x2="821" y2="711.5" stroke="#000" stroke-width="1" />
<line x1="796.5" y1="710.5" x2="817.5" y2="716.5" stroke="#000" stroke-width="1" />
<line x1="791.5" y1="747.0" x2="819.5" y2="730.2" stroke="#000" stroke-width="1" />
<line x1="793.4" y1="749.6" x2="820.6" y2="733.6" stroke="#000" stroke-width="1" />
<line x1="795.2" y1="752.2" x2="821.8" y2="737.0" stroke="#000" stroke-width="1" />
<line x1="797.1" y1="754.9" x2="823.0" y2="740.3" stroke="#000" stroke-width="1" />
<line x1="799.0" y1="757.5" x2="824.1" y2="743.7" stroke="#000" stroke-width="1" />
<path d="M814.8,724.6 L936.8,910.6 L937.6,909.7" fill="none" stroke="#000" stroke-width="1.3" stroke-linejoin="miter" />
<line x1="829.5" y1="752" x2="840" y2="767" stroke="#6a1b9a" stroke-width="4.5" stroke-linecap="butt" />
<line x1="841" y1="769" x2="852" y2="788" stroke="#6a1b9a" stroke-width="4.5" stroke-linecap="butt" />
<line x1="770.7" y1="792.4" x2="784.9" y2="781.8" stroke="#000" stroke-width="4" stroke-linecap="butt" />
<path d="M723.5,876.3 L763.1,854.8 L776,848.4 L769.8,835.1 L779.5,829.7 L782.2,832.4 L815.1,811.1 L816.8,805.8 L824,801 L934.1,961.2 L991,922.1" fill="none" stroke="#000" stroke-width="1.3" stroke-linejoin="miter" />
<line x1="869.3" y1="812.9" x2="922.5" y2="892.8" stroke="#333" stroke-width="4.6"/>
<line x1="869.3" y1="812.9" x2="922.5" y2="892.8" stroke="#8a8a8a" stroke-width="3.0"/>
<line x1="846.2" y1="828.9" x2="900.3" y2="907.9" stroke="#333" stroke-width="4.6"/>
<line x1="846.2" y1="828.9" x2="900.3" y2="907.9" stroke="#8a8a8a" stroke-width="3.0"/>
<line x1="868.4" y1="812" x2="891.5" y2="799.5" stroke="#000" stroke-width="1.2" stroke-dasharray="4 3"/>
<line x1="923.4" y1="891.9" x2="944.8" y2="879.5" stroke="#000" stroke-width="1.2" stroke-dasharray="4 3"/>
<line x1="824" y1="841.3" x2="845.3" y2="830.6" stroke="#000" stroke-width="1.2" stroke-dasharray="4 3"/>
<line x1="877.3" y1="922.1" x2="900.3" y2="908.8" stroke="#000" stroke-width="1.2" stroke-dasharray="4 3"/>
<path d="M937.60,909.70 L959.00,942.60 M941.26,907.43 L962.56,940.32 M944.91,905.17 L966.11,938.04 M948.57,902.90 L969.67,935.77 M952.22,900.63 L973.22,933.49 M955.88,898.37 L976.78,931.21 M959.53,896.10 L980.33,928.93 M963.19,893.83 L983.89,926.66 M966.84,891.57 L987.44,924.38 M970.50,889.30 L991.00,922.10" stroke="#000" stroke-width="1.1"/>
<path d="M937.6,909.7 L970.5,889.3 M959,942.6 L991,922.1" stroke="#000" stroke-width="1.3"/>
<line x1="937.6" y1="909.7" x2="970.5" y2="889.3" stroke="#000" stroke-width="1.3" />
<line x1="959" y1="942.6" x2="991" y2="922.1" stroke="#000" stroke-width="1.3" />
<line x1="920.2" y1="935.2" x2="931.2" y2="951.2" stroke="#c030e0" stroke-width="2.2" stroke-linecap="butt" />
<line x1="922" y1="934" x2="933" y2="950" stroke="#58c8ff" stroke-width="2.2" stroke-linecap="butt" />
<line x1="923.8" y1="932.8" x2="934.8" y2="948.8" stroke="#2020c0" stroke-width="2.2" stroke-linecap="butt" />
<line x1="942" y1="951" x2="956" y2="944.5" stroke="#22dd22" stroke-width="5" stroke-linecap="butt" />
<path d="M601.6,838.6 L674.4,908.7 L689.9,901.5 L789.4,1052.6 L808.6,1037" fill="none" stroke="#000" stroke-width="1.3" stroke-linejoin="miter" />
<path d="M646,866.1 L673.8,896.6 L681.5,905" fill="none" stroke="#000" stroke-width="1.3" stroke-linejoin="miter" />
<path d="M643.4,869.8 L630,853.6" fill="none" stroke="#000" stroke-width="0" stroke-linejoin="miter" />
<path d="M707.9,883.5 L789.4,1005.8" fill="none" stroke="#000" stroke-width="1.3" stroke-linejoin="miter" />
<path d="M707.9,883.5 L711,879 L723.5,876.3" fill="none" stroke="#000" stroke-width="1.3" stroke-linejoin="miter" />
<path d="M723.5,876.3 A21,21 0 0 1 763.1,854.8" fill="none" stroke="#000" stroke-width="1.3" />
<line x1="704.3" y1="920.7" x2="757.1" y2="999.8" stroke="#333" stroke-width="4.6"/>
<line x1="704.3" y1="920.7" x2="757.1" y2="999.8" stroke="#8a8a8a" stroke-width="3.0"/>
<line x1="721.1" y1="908.7" x2="773.9" y2="987.8" stroke="#333" stroke-width="4.6"/>
<line x1="721.1" y1="908.7" x2="773.9" y2="987.8" stroke="#8a8a8a" stroke-width="3.0"/>
<line x1="682.7" y1="932.7" x2="703.1" y2="921.9" stroke="#000" stroke-width="1.2" stroke-dasharray="4 3"/>
<line x1="736.7" y1="1013" x2="757.1" y2="1001" stroke="#000" stroke-width="1.2" stroke-dasharray="4 3"/>
<line x1="721.1" y1="908.7" x2="743.9" y2="895.5" stroke="#000" stroke-width="1.2" stroke-dasharray="4 3"/>
<line x1="775" y1="987.8" x2="797.8" y2="975.8" stroke="#000" stroke-width="1.2" stroke-dasharray="4 3"/>
<path d="M788.20,1005.80 L808.60,1037.00 M792.10,1003.25 L812.20,1035.05 M796.00,1000.70 L815.80,1033.10 M799.90,998.15 L819.40,1031.15 M803.80,995.60 L823.00,1029.20 M807.70,993.05 L826.60,1027.25 M811.60,990.50 L830.20,1025.30 M815.50,987.95 L833.80,1023.35 M819.40,985.40 L837.40,1021.40" stroke="#000" stroke-width="1.1"/>
<path d="M788.2,1005.8 L819.4,985.4 M808.6,1037 L837.4,1021.4" stroke="#000" stroke-width="1.3"/>
<line x1="788.2" y1="1005.8" x2="819.4" y2="985.4" stroke="#000" stroke-width="1.3" />
<line x1="808.6" y1="1037" x2="837.4" y2="1021.4" stroke="#000" stroke-width="1.3" />
<line x1="655.2" y1="870.9" x2="667.2" y2="887.9" stroke="#c030e0" stroke-width="2.2" stroke-linecap="butt" />
<line x1="657" y1="869.5" x2="669" y2="886.5" stroke="#58c8ff" stroke-width="2.2" stroke-linecap="butt" />
<line x1="658.8" y1="868.1" x2="670.8" y2="885.1" stroke="#2020c0" stroke-width="2.2" stroke-linecap="butt" />
<rect x="669.6" y="894.3" width="6" height="6" fill="#000" rx="1"/>
<line x1="776" y1="1027" x2="786" y2="1040" stroke="#6a1b9a" stroke-width="4.5" stroke-linecap="butt" />
<line x1="793.2" y1="1048" x2="810.2" y2="1038" stroke="#c030e0" stroke-width="2.2" stroke-linecap="butt" />
<line x1="792" y1="1046" x2="809" y2="1036" stroke="#58c8ff" stroke-width="2.2" stroke-linecap="butt" />
<line x1="790.8" y1="1044" x2="807.8" y2="1034" stroke="#2020c0" stroke-width="2.2" stroke-linecap="butt" />
<circle cx="801.4" cy="1043" r="36" fill="none" stroke="#000" stroke-width="5.5"/>
<text x="1195" y="178" font-size="15" fill="#111" textLength="124.5" lengthAdjust="spacingAndGlyphs">Down to Platform 2</text>
<line x1="1257.5" y1="185.2" x2="1230.2779015541398" y2="221.08367522408838" stroke="#000" stroke-width="1.6" />
<path d="M1222.30,231.60 L1230.82,210.45 L1233.18,217.26 L1240.38,217.70 Z" fill="#000"/>
<text x="874.2" y="429" font-size="15" fill="#111" textLength="124" lengthAdjust="spacingAndGlyphs">Down to Platform 2</text>
<line x1="947.5" y1="412.5" x2="991.4725087414218" y2="372.6179571880128" stroke="#000" stroke-width="1.6" />
<path d="M1001.25,363.75 L988.99,382.97 L987.92,375.84 L980.92,374.09 Z" fill="#000"/>
<text x="693" y="545.5" font-size="15" fill="#111" textLength="87" lengthAdjust="spacingAndGlyphs">To Ticket Hall</text>
<line x1="688" y1="538" x2="624.7232215549509" y2="520.5156270086048" stroke="#000" stroke-width="1.6" />
<path d="M612.00,517.00 L634.80,517.08 L629.35,521.79 L631.61,528.64 Z" fill="#000"/>
<line x1="732" y1="528" x2="710.2726773636315" y2="464.4893646013843" stroke="#000" stroke-width="1.6" />
<path d="M706.00,452.00 L718.80,470.87 L711.83,469.03 L707.44,474.76 Z" fill="#000"/>
<text x="862.9" y="562.5" font-size="15" fill="#111" textLength="125.2" lengthAdjust="spacingAndGlyphs">Up to Bakerloo Line</text>
<text x="862.9" y="581.5" font-size="15" fill="#111" textLength="66.6" lengthAdjust="spacingAndGlyphs">Platform 1</text>
<line x1="945" y1="583" x2="1004.7642466469187" y2="631.6651722696337" stroke="#000" stroke-width="1.6" />
<path d="M1015.00,640.00 L994.15,630.76 L1001.04,628.63 L1001.73,621.46 Z" fill="#000"/>
<text x="1202" y="799.5" font-size="15" fill="#111" textLength="145" lengthAdjust="spacingAndGlyphs">Down to Bakerloo Line</text>
<text x="1202" y="817.5" font-size="15" fill="#111" textLength="66.6" lengthAdjust="spacingAndGlyphs">Platform 1</text>
<line x1="1262" y1="785" x2="1242.9780308222187" y2="702.8596785504893" stroke="#000" stroke-width="1.6" />
<path d="M1240.00,690.00 L1250.81,710.08 L1244.06,707.54 L1239.12,712.79 Z" fill="#000"/>
<text x="933" y="1031" font-size="15" fill="#111" textLength="147.5" lengthAdjust="spacingAndGlyphs">Down to Piccadilly Line</text>
<line x1="925" y1="1026" x2="854.1865138930917" y2="1029.2034672286459" stroke="#000" stroke-width="1.6" />
<path d="M841.00,1029.80 L862.71,1022.81 L858.98,1028.99 L863.25,1034.80 Z" fill="#000"/>
<text x="573.75" y="210" font-size="8" fill="#3c3cb4" text-anchor="middle" dominant-baseline="central" transform="rotate(42 573.75 210)">3/094-5</text>
<text x="567.5" y="218" font-size="8" fill="#303030" text-anchor="middle" dominant-baseline="central" transform="rotate(42 567.5 218)">(C10-07)</text>
<text x="647.5" y="196" font-size="8" fill="#3c3cb4" text-anchor="middle" dominant-baseline="central" transform="rotate(90 647.5 196)">3/094-3</text>
<text x="638.75" y="196" font-size="8" fill="#303030" text-anchor="middle" dominant-baseline="central" transform="rotate(90 638.75 196)">(C10-08)</text>
<text x="739.7" y="184" font-size="8" fill="#3c3cb4" text-anchor="middle" dominant-baseline="central" transform="rotate(90 739.7 184)">3/094-2</text>
<text x="731" y="184" font-size="8" fill="#303030" text-anchor="middle" dominant-baseline="central" transform="rotate(90 731 184)">(C10-09)</text>
<text x="768.3" y="181" font-size="8" fill="#3c3cb4" text-anchor="middle" dominant-baseline="central" transform="rotate(90 768.3 181)">3/094-1-B</text>
<text x="759.7" y="181" font-size="8" fill="#303030" text-anchor="middle" dominant-baseline="central" transform="rotate(90 759.7 181)">(C10-10)</text>
<text x="804.3" y="178" font-size="8" fill="#3c3cb4" text-anchor="middle" dominant-baseline="central" transform="rotate(90 804.3 178)">3/094-1-A</text>
<text x="796.3" y="178" font-size="8" fill="#303030" text-anchor="middle" dominant-baseline="central" transform="rotate(90 796.3 178)">(C10-11)</text>
<text x="899.5" y="179.3" font-size="8" fill="#303030" text-anchor="middle" dominant-baseline="central">(E06-09)</text>
<text x="904.2" y="187" font-size="8" fill="#3c3cb4" text-anchor="middle" dominant-baseline="central">ESC 6/1</text>
<text x="958.2" y="175.3" font-size="8" fill="#303030" text-anchor="middle" dominant-baseline="central">(E06-16)</text>
<text x="959.5" y="183" font-size="8" fill="#3c3cb4" text-anchor="middle" dominant-baseline="central">ESC 6/8</text>
<g transform="rotate(-3.6 932.8 195.3)">
<text x="932.8" y="195.3" font-size="7" fill="#303030" text-anchor="middle" dominant-baseline="central">8 Glazed LEP's</text>
</g>
<ellipse cx="902" cy="197" rx="2.8" ry="1.6" fill="#000" transform="rotate(-3.6 902 197)"/><ellipse cx="960" cy="193" rx="2.8" ry="1.6" fill="#000" transform="rotate(-3.6 960 193)"/>
<text x="764.3" y="250" font-size="11" fill="#303030" text-anchor="middle" dominant-baseline="central">C10</text>
<text x="763" y="272" font-size="8" fill="#303030" text-anchor="middle" dominant-baseline="central">3/094</text>
<text x="633" y="238" font-size="8" fill="#3c3cb4" text-anchor="middle" dominant-baseline="central">3/094-7</text>
<text x="633" y="247.5" font-size="8" fill="#303030" text-anchor="middle" dominant-baseline="central">(C10-05)</text>
<text x="673" y="237.5" font-size="8" fill="#3c3cb4" text-anchor="middle" dominant-baseline="central">3/094-12</text>
<text x="673" y="245.5" font-size="8" fill="#303030" text-anchor="middle" dominant-baseline="central">(C10-06)</text>
<text x="666.4" y="284.5" font-size="8" fill="#3c3cb4" text-anchor="middle" dominant-baseline="central">3/094-8</text>
<text x="667.7" y="292.5" font-size="8" fill="#303030" text-anchor="middle" dominant-baseline="central">(C10-04)</text>
<text x="608.5" y="331.2" font-size="8" fill="#303030" text-anchor="middle" dominant-baseline="central">3/093</text>
<text x="475.3" y="391.8" font-size="8" fill="#303030" text-anchor="middle" dominant-baseline="central">3/092</text>
<text x="378.75" y="409" font-size="8" fill="#303030" text-anchor="middle" dominant-baseline="central" transform="rotate(28 378.75 409)">(C02-06)</text>
<text x="376.25" y="417.5" font-size="8" fill="#3c3cb4" text-anchor="middle" dominant-baseline="central" transform="rotate(28 376.25 417.5)">3/092-3</text>
<text x="745.2" y="328" font-size="8" fill="#3c3cb4" text-anchor="middle" dominant-baseline="central" transform="rotate(90 745.2 328)">3/094-10</text>
<text x="736.2" y="328" font-size="8" fill="#303030" text-anchor="middle" dominant-baseline="central" transform="rotate(90 736.2 328)">(C10-03)</text>
<text x="777.2" y="329" font-size="8" fill="#3c3cb4" text-anchor="middle" dominant-baseline="central" transform="rotate(90 777.2 329)">3/094-11-A</text>
<text x="767.6" y="324.4" font-size="8" fill="#303030" text-anchor="middle" dominant-baseline="central" transform="rotate(90 767.6 324.4)">(C10-02)</text>
<text x="808.6" y="326" font-size="8" fill="#3c3cb4" text-anchor="middle" dominant-baseline="central" transform="rotate(90 808.6 326)">3/094-11-B</text>
<text x="798.5" y="323" font-size="8" fill="#303030" text-anchor="middle" dominant-baseline="central" transform="rotate(90 798.5 323)">(C10-01)</text>
<g transform="rotate(-3.6 939.5 287.9)">
<text x="939.5" y="287.9" font-size="7" fill="#303030" text-anchor="middle" dominant-baseline="central">8 Glazed LEP's</text>
</g>
<ellipse cx="912" cy="289.5" rx="2.8" ry="1.6" fill="#fff" stroke="#000" stroke-width="1.1"/><ellipse cx="970" cy="286" rx="2.8" ry="1.6" fill="#fff" stroke="#000" stroke-width="1.1"/>
<text x="919.5" y="296.5" font-size="8" fill="#3c3cb4" text-anchor="middle" dominant-baseline="central">ESC 4/8</text>
<text x="918.2" y="305.2" font-size="8" fill="#303030" text-anchor="middle" dominant-baseline="central">(E06-08)</text>
<text x="974.8" y="293.2" font-size="8" fill="#3c3cb4" text-anchor="middle" dominant-baseline="central">ESC 4/1</text>
<text x="974.8" y="302" font-size="8" fill="#303030" text-anchor="middle" dominant-baseline="central">(E06-01)</text>
<text x="963.5" y="325.2" font-size="8" fill="#303030" text-anchor="middle" dominant-baseline="central">4/603</text>
<line x1="976" y1="325" x2="1004" y2="328" stroke="#000" stroke-width="1" />
<text x="1100" y="233.5" font-size="11" fill="#303030" text-anchor="middle" dominant-baseline="central">C03</text>
<text x="1101.75" y="257" font-size="8" fill="#303030" text-anchor="middle" dominant-baseline="central">4/082</text>
<text x="1074.6" y="326.5" font-size="8" fill="#303030" text-anchor="middle" dominant-baseline="central">(C03-09)</text>
<text x="1076" y="334.5" font-size="8" fill="#3c3cb4" text-anchor="middle" dominant-baseline="central">4/202-1</text>
<text x="1139.8" y="290.6" font-size="8" fill="#303030" text-anchor="middle" dominant-baseline="central" transform="rotate(62 1139.8 290.6)">4/201</text>
<text x="1131.25" y="326.5" font-size="8" fill="#303030" text-anchor="middle" dominant-baseline="central">(C03-08)</text>
<text x="1132.5" y="334" font-size="8" fill="#3c3cb4" text-anchor="middle" dominant-baseline="central">4/201-3</text>
<text x="1137.5" y="350" font-size="8" fill="#303030" text-anchor="middle" dominant-baseline="central">(C03-07)</text>
<text x="1138.75" y="357.5" font-size="8" fill="#3c3cb4" text-anchor="middle" dominant-baseline="central">4/201-4</text>
<text x="1196.25" y="307.5" font-size="8" fill="#303030" text-anchor="middle" dominant-baseline="central" transform="rotate(-8 1196.25 307.5)">(C03-01)</text>
<text x="1197.5" y="315" font-size="8" fill="#3c3cb4" text-anchor="middle" dominant-baseline="central" transform="rotate(-8 1197.5 315)">4/201-1</text>
<text x="1203.75" y="335" font-size="8" fill="#303030" text-anchor="middle" dominant-baseline="central" transform="rotate(-8 1203.75 335)">(C03-02)</text>
<text x="1203.75" y="342.5" font-size="8" fill="#3c3cb4" text-anchor="middle" dominant-baseline="central" transform="rotate(-8 1203.75 342.5)">4/201-2</text>
<text x="699.7" y="361.8" font-size="8" fill="#303030" text-anchor="middle" dominant-baseline="central" transform="rotate(50 699.7 361.8)">(E07-01)</text>
<text x="693" y="366.5" font-size="8" fill="#3c3cb4" text-anchor="middle" dominant-baseline="central" transform="rotate(50 693 366.5)">ESC 7/1</text>
<text x="736.3" y="386.5" font-size="8" fill="#303030" text-anchor="middle" dominant-baseline="central" transform="rotate(50 736.3 386.5)">(E07-15)</text>
<text x="731" y="393" font-size="8" fill="#3c3cb4" text-anchor="middle" dominant-baseline="central" transform="rotate(50 731 393)">ESC 7/15</text>
<text x="627.3" y="410.5" font-size="8" fill="#3c3cb4" text-anchor="middle" dominant-baseline="central" transform="rotate(50 627.3 410.5)">ESC 8/18</text>
<text x="620.6" y="415.6" font-size="8" fill="#303030" text-anchor="middle" dominant-baseline="central" transform="rotate(50 620.6 415.6)">(E08-36)</text>
<text x="676.4" y="455" font-size="8" fill="#3c3cb4" text-anchor="middle" dominant-baseline="central" transform="rotate(50 676.4 455)">ESC 8/1</text>
<text x="671" y="461" font-size="8" fill="#303030" text-anchor="middle" dominant-baseline="central" transform="rotate(50 671 461)">(E08-19)</text>
<text x="604.6" y="419" font-size="8" fill="#303030" text-anchor="middle" dominant-baseline="central" transform="rotate(50 604.6 419)">(E09-01)</text>
<text x="599.5" y="425.7" font-size="8" fill="#3c3cb4" text-anchor="middle" dominant-baseline="central" transform="rotate(50 599.5 425.7)">ESC 9/1</text>
<text x="639.8" y="456.4" font-size="8" fill="#303030" text-anchor="middle" dominant-baseline="central" transform="rotate(50 639.8 456.4)">(E09-16)</text>
<text x="635.5" y="463" font-size="8" fill="#3c3cb4" text-anchor="middle" dominant-baseline="central" transform="rotate(50 635.5 463)">ESC 9/16</text>
<text x="510" y="501.6" font-size="8" fill="#3c3cb4" text-anchor="middle" dominant-baseline="central" transform="rotate(50 510 501.6)">ESC 11/16</text>
<text x="502" y="507" font-size="8" fill="#303030" text-anchor="middle" dominant-baseline="central" transform="rotate(50 502 507)">(E11-32)</text>
<text x="551.4" y="545.5" font-size="8" fill="#3c3cb4" text-anchor="middle" dominant-baseline="central" transform="rotate(50 551.4 545.5)">ESC 11/1</text>
<text x="544.6" y="550.6" font-size="8" fill="#303030" text-anchor="middle" dominant-baseline="central" transform="rotate(50 544.6 550.6)">(E11-17)</text>
<text x="420" y="515.7" font-size="11" fill="#303030" text-anchor="middle" dominant-baseline="central">C02</text>
<text x="416.7" y="543" font-size="8" fill="#303030" text-anchor="middle" dominant-baseline="central">3/091</text>
<text x="346" y="456" font-size="8" fill="#303030" text-anchor="middle" dominant-baseline="central" transform="rotate(50 346 456)">(C02-05)</text>
<text x="340" y="462" font-size="8" fill="#3c3cb4" text-anchor="middle" dominant-baseline="central" transform="rotate(50 340 462)">3/091-6</text>
<text x="313" y="486" font-size="8" fill="#3c3cb4" text-anchor="middle" dominant-baseline="central" transform="rotate(50 313 486)">3/091-5</text>
<text x="320" y="481" font-size="8" fill="#303030" text-anchor="middle" dominant-baseline="central" transform="rotate(50 320 481)">(C02-04)</text>
<text x="446" y="456" font-size="8" fill="#3c3cb4" text-anchor="middle" dominant-baseline="central" transform="rotate(-55 446 456)">3/092-4</text>
<text x="454" y="460" font-size="8" fill="#303030" text-anchor="middle" dominant-baseline="central" transform="rotate(-55 454 460)">(C02-07)</text>
<text x="324" y="543" font-size="8" fill="#303030" text-anchor="middle" dominant-baseline="central" transform="rotate(-55 324 543)">(C02-03)</text>
<text x="330" y="550" font-size="8" fill="#3c3cb4" text-anchor="middle" dominant-baseline="central" transform="rotate(-55 330 550)">3/091-4</text>
<text x="363" y="582" font-size="8" fill="#303030" text-anchor="middle" dominant-baseline="central" transform="rotate(-55 363 582)">(C02-02)</text>
<text x="370" y="588" font-size="8" fill="#3c3cb4" text-anchor="middle" dominant-baseline="central" transform="rotate(-55 370 588)">3/091-2</text>
<text x="398" y="628" font-size="8" fill="#303030" text-anchor="middle" dominant-baseline="central" transform="rotate(-55 398 628)">(C02-01)</text>
<text x="405" y="633" font-size="8" fill="#3c3cb4" text-anchor="middle" dominant-baseline="central" transform="rotate(-55 405 633)">3/091-1</text>
<text x="596.5" y="631" font-size="8" fill="#303030" text-anchor="middle" dominant-baseline="central" transform="rotate(50 596.5 631)">(E03-22)</text>
<text x="589.8" y="639.6" font-size="8" fill="#3c3cb4" text-anchor="middle" dominant-baseline="central" transform="rotate(50 589.8 639.6)">ESC 3/1</text>
<text x="633.1" y="672.8" font-size="8" fill="#303030" text-anchor="middle" dominant-baseline="central" transform="rotate(50 633.1 672.8)">(E03-42)</text>
<text x="629.8" y="682.8" font-size="8" fill="#3c3cb4" text-anchor="middle" dominant-baseline="central" transform="rotate(50 629.8 682.8)">ESC 3/21</text>
<text x="493.2" y="722.8" font-size="8" fill="#3c3cb4" text-anchor="middle" dominant-baseline="central" transform="rotate(50 493.2 722.8)">ESC 1/21</text>
<text x="484.5" y="727" font-size="8" fill="#303030" text-anchor="middle" dominant-baseline="central" transform="rotate(50 484.5 727)">(E01-21)</text>
<text x="543.2" y="762.8" font-size="8" fill="#3c3cb4" text-anchor="middle" dominant-baseline="central" transform="rotate(50 543.2 762.8)">ESC 1/1</text>
<text x="534.5" y="767" font-size="8" fill="#303030" text-anchor="middle" dominant-baseline="central" transform="rotate(50 534.5 767)">(E01-01)</text>
<text x="787.6" y="808.7" font-size="8" fill="#303030" text-anchor="middle" dominant-baseline="central">4/205</text>
<text x="716.4" y="832" font-size="11" fill="#303030" text-anchor="middle" dominant-baseline="central">C04</text>
<text x="706.4" y="851.4" font-size="8" fill="#303030" text-anchor="middle" dominant-baseline="central">4/081</text>
<text x="854.2" y="751.4" font-size="8" fill="#303030" text-anchor="middle" dominant-baseline="central" transform="rotate(-30 854.2 751.4)">(C04-06)</text>
<text x="857" y="759.4" font-size="8" fill="#3c3cb4" text-anchor="middle" dominant-baseline="central" transform="rotate(-30 857 759.4)">4/639-4</text>
<text x="862.9" y="766.1" font-size="8" fill="#303030" text-anchor="middle" dominant-baseline="central" transform="rotate(-30 862.9 766.1)">(C04-07)</text>
<text x="866.2" y="774.7" font-size="8" fill="#3c3cb4" text-anchor="middle" dominant-baseline="central" transform="rotate(-30 866.2 774.7)">4/639-3</text>
<text x="871" y="854.6" font-size="8" fill="#303030" text-anchor="middle" dominant-baseline="central" transform="rotate(60 871 854.6)">4/639</text>
<text x="905.7" y="948.8" font-size="8" fill="#303030" text-anchor="middle" dominant-baseline="central" transform="rotate(-30 905.7 948.8)">(C04-02)</text>
<text x="911" y="955.9" font-size="8" fill="#3c3cb4" text-anchor="middle" dominant-baseline="central" transform="rotate(-30 911 955.9)">4/639-1</text>
<text x="956.3" y="953.2" font-size="8" fill="#3c3cb4" text-anchor="middle" dominant-baseline="central" transform="rotate(-30 956.3 953.2)">4/639-2</text>
<text x="962.5" y="961.2" font-size="8" fill="#303030" text-anchor="middle" dominant-baseline="central" transform="rotate(-30 962.5 961.2)">(C04-01)</text>
<text x="725.9" y="949.5" font-size="8" fill="#303030" text-anchor="middle" dominant-baseline="central" transform="rotate(60 725.9 949.5)">4/638</text>
<text x="646.8" y="882.3" font-size="8" fill="#303030" text-anchor="middle" dominant-baseline="central" transform="rotate(-50 646.8 882.3)">(C04-05)</text>
<text x="652.8" y="889.5" font-size="8" fill="#3c3cb4" text-anchor="middle" dominant-baseline="central" transform="rotate(-50 652.8 889.5)">4/081-1</text>
<text x="763" y="1043" font-size="8" fill="#303030" text-anchor="middle" dominant-baseline="central" transform="rotate(-50 763 1043)">(C04-04)</text>
<text x="766.7" y="1050" font-size="8" fill="#3c3cb4" text-anchor="middle" dominant-baseline="central" transform="rotate(-50 766.7 1050)">4/638-1</text>
<text x="805" y="1045.4" font-size="8" fill="#3c3cb4" text-anchor="middle" dominant-baseline="central" transform="rotate(-25 805 1045.4)">4/638-2</text>
<text x="809.8" y="1055" font-size="8" fill="#303030" text-anchor="middle" dominant-baseline="central" transform="rotate(-25 809.8 1055)">(C04-03)</text>
<text x="853" y="1016.1" font-size="8" fill="#303030" text-anchor="middle" dominant-baseline="central">4/605</text>
<line x1="844" y1="1019" x2="836" y2="1023" stroke="#000" stroke-width="1" />
<text x="1077.4" y="496.3" font-size="8" fill="#303030" text-anchor="middle" dominant-baseline="central" transform="rotate(90 1077.4 496.3)">4/636</text>
<text x="1168.4" y="497" font-size="8" fill="#303030" text-anchor="middle" dominant-baseline="central" transform="rotate(90 1168.4 497)">4/637</text>
<text x="1054" y="633.5" font-size="8" fill="#303030" text-anchor="middle" dominant-baseline="central" transform="rotate(90 1054 633.5)">(C03-12)</text>
<text x="1045.5" y="634.5" font-size="8" fill="#3c3cb4" text-anchor="middle" dominant-baseline="central" transform="rotate(90 1045.5 634.5)">4/604-3</text>
<text x="992.8" y="672.8" font-size="8" fill="#303030" text-anchor="middle" dominant-baseline="central">4/604</text>
<text x="1075.5" y="665" font-size="8" fill="#303030" text-anchor="middle" dominant-baseline="central">4/204</text>
<text x="1054.7" y="699.5" font-size="8" fill="#303030" text-anchor="middle" dominant-baseline="central" transform="rotate(90 1054.7 699.5)">(C03-11)</text>
<text x="1046" y="699.5" font-size="8" fill="#3c3cb4" text-anchor="middle" dominant-baseline="central" transform="rotate(90 1046 699.5)">4/604-2</text>
<text x="1139.8" y="625.7" font-size="8" fill="#303030" text-anchor="middle" dominant-baseline="central">(C03-06)</text>
<text x="1141.9" y="634" font-size="8" fill="#3c3cb4" text-anchor="middle" dominant-baseline="central">4/203-1</text>
<text x="1139.8" y="656.4" font-size="8" fill="#303030" text-anchor="middle" dominant-baseline="central">(C03-05)</text>
<text x="1141.9" y="664.6" font-size="8" fill="#3c3cb4" text-anchor="middle" dominant-baseline="central">4/203-2</text>
<text x="1205.2" y="627.8" font-size="8" fill="#303030" text-anchor="middle" dominant-baseline="central">(C03-03)</text>
<text x="1209.3" y="636" font-size="8" fill="#3c3cb4" text-anchor="middle" dominant-baseline="central">4/203-4</text>
<text x="1188.8" y="662.5" font-size="11" fill="#303030" text-anchor="middle" dominant-baseline="central">4/203</text>
<text x="1178.6" y="687" font-size="8" fill="#3c3cb4" text-anchor="middle" dominant-baseline="central">4/203-3</text>
<text x="1176.6" y="695.2" font-size="8" fill="#303030" text-anchor="middle" dominant-baseline="central">(C03-04)</text>
<text x="1262.4" y="638" font-size="8" fill="#303030" text-anchor="middle" dominant-baseline="central">4/602</text>
<line x1="1253" y1="641" x2="1238" y2="655" stroke="#000" stroke-width="1" />
<text x="1113.2" y="660.5" font-size="8" fill="#303030" text-anchor="middle" dominant-baseline="central" transform="rotate(90 1113.2 660.5)">(C03-10)</text>
<text x="1107.1" y="660.5" font-size="8" fill="#3c3cb4" text-anchor="middle" dominant-baseline="central" transform="rotate(90 1107.1 660.5)">4/204-1</text>
<text x="1375.6" y="212.4" font-size="8" fill="#303030" text-anchor="middle" dominant-baseline="central">(C01-05)</text>
<text x="1377" y="220.9" font-size="8" fill="#3c3cb4" text-anchor="middle" dominant-baseline="central">5/201-1</text>
<text x="1443" y="213.3" font-size="8" fill="#303030" text-anchor="middle" dominant-baseline="central">5/602</text>
<line x1="1451" y1="216" x2="1454" y2="243" stroke="#000" stroke-width="1" />
<text x="1335.7" y="252.6" font-size="8" fill="#3c3cb4" text-anchor="middle" dominant-baseline="central" transform="rotate(-90 1335.7 252.6)">5/201-2</text>
<text x="1344.1" y="252.6" font-size="8" fill="#303030" text-anchor="middle" dominant-baseline="central" transform="rotate(-90 1344.1 252.6)">(C01-04)</text>
<text x="1339" y="330" font-size="8" fill="#3c3cb4" text-anchor="middle" dominant-baseline="central" transform="rotate(-90 1339 330)">5/201-4</text>
<text x="1347.5" y="330" font-size="8" fill="#303030" text-anchor="middle" dominant-baseline="central" transform="rotate(-90 1347.5 330)">(C01-03)</text>
<text x="1395.8" y="328.6" font-size="8" fill="#303030" text-anchor="middle" dominant-baseline="central" transform="rotate(-90 1395.8 328.6)">(C01-06)</text>
<text x="1404.3" y="328.6" font-size="8" fill="#3c3cb4" text-anchor="middle" dominant-baseline="central" transform="rotate(-90 1404.3 328.6)">5/201-7</text>
<text x="1367.2" y="377.8" font-size="8" fill="#303030" text-anchor="middle" dominant-baseline="central" transform="rotate(90 1367.2 377.8)">5/201</text>
<text x="1339" y="448" font-size="8" fill="#3c3cb4" text-anchor="middle" dominant-baseline="central" transform="rotate(-90 1339 448)">5/201-5</text>
<text x="1347.5" y="448" font-size="8" fill="#303030" text-anchor="middle" dominant-baseline="central" transform="rotate(-90 1347.5 448)">(C01-02)</text>
<text x="1395.8" y="448" font-size="8" fill="#303030" text-anchor="middle" dominant-baseline="central" transform="rotate(-90 1395.8 448)">(C01-07)</text>
<text x="1404.3" y="448" font-size="8" fill="#3c3cb4" text-anchor="middle" dominant-baseline="central" transform="rotate(-90 1404.3 448)">5/201-6</text>
<text x="1453.5" y="485.5" font-size="8" fill="#303030" text-anchor="middle" dominant-baseline="central">5/601</text>
<line x1="1456" y1="490" x2="1459" y2="515" stroke="#000" stroke-width="1" />
<text x="1399.5" y="522.4" font-size="11" fill="#303030" text-anchor="middle" dominant-baseline="central">C01</text>
<text x="1389.5" y="627.6" font-size="8" fill="#303030" text-anchor="middle" dominant-baseline="central" transform="rotate(70 1389.5 627.6)">5/202</text>
<text x="1477.6" y="644.6" font-size="8" fill="#303030" text-anchor="middle" dominant-baseline="central">5/603</text>
<line x1="1485" y1="648" x2="1497" y2="670" stroke="#000" stroke-width="1" />
<text x="1442" y="724.2" font-size="8" fill="#3c3cb4" text-anchor="middle" dominant-baseline="central" transform="rotate(-19 1442 724.2)">5/202-1</text>
<text x="1447.8" y="732.7" font-size="8" fill="#303030" text-anchor="middle" dominant-baseline="central" transform="rotate(-19 1447.8 732.7)">(C01-01)</text></svg>
</body></html>
